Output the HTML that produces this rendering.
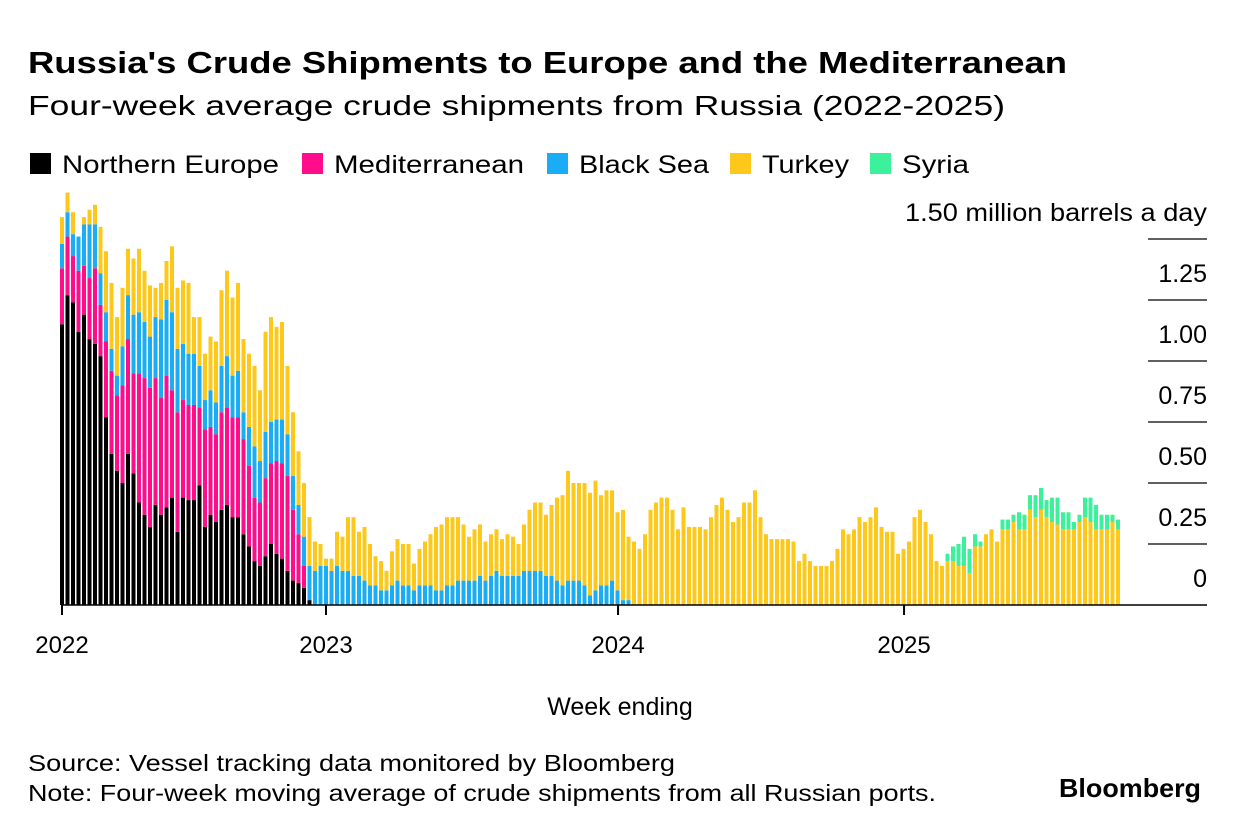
<!DOCTYPE html>
<html><head><meta charset="utf-8"><style>
html,body{margin:0;padding:0;background:#fff;}
svg{display:block;font-family:"Liberation Sans",Arial,sans-serif;}
</style></head><body>
<svg id="chart" width="1240" height="832" viewBox="0 0 1240 832" xmlns="http://www.w3.org/2000/svg">
<rect width="1240" height="832" fill="#fff"/>
<text x="28" y="73" font-size="31" font-weight="bold" fill="#000" textLength="1039" lengthAdjust="spacingAndGlyphs">Russia's Crude Shipments to Europe and the Mediterranean</text>
<text x="28" y="115" font-size="28" fill="#000" textLength="977" lengthAdjust="spacingAndGlyphs">Four-week average crude shipments from Russia (2022-2025)</text>
<g id="legend"></g>
<g id="grid"></g>
<g id="bars"></g>
<g id="xaxis"></g>
<text x="620" y="715" font-size="25" text-anchor="middle" fill="#000">Week ending</text>
<text x="28" y="771" font-size="23" fill="#000" textLength="647" lengthAdjust="spacingAndGlyphs">Source: Vessel tracking data monitored by Bloomberg</text>
<text x="28" y="801" font-size="23" fill="#000" textLength="908" lengthAdjust="spacingAndGlyphs">Note: Four-week moving average of crude shipments from all Russian ports.</text>
<text x="1201" y="797" font-size="26" font-weight="bold" text-anchor="end" fill="#000" textLength="142" lengthAdjust="spacingAndGlyphs">Bloomberg</text>
</svg>
<script>
const seriesNames = ["Northern Europe","Mediterranean","Black Sea","Turkey","Syria"];
const seriesColors = ["#000000","#ff0d8a","#1aadf5","#fec81b","#3df09b"];
const northern = [1.15,1.27,1.24,1.12,1.19,1.09,1.07,1.02,.77,.62,.55,.50,.62,.54,.42,.37,.32,.41,.37,.40,.44,.30,.44,.43,.43,.49,.32,.37,.34,.39,.41,.36,.36,.29,.24,.18,.16,.20,.25,.21,.19,.14,.10,.09,.07,.02];
const mediterranean = [.23,.24,.19,.25,.20,.25,.31,.21,.31,.34,.31,.40,.47,.41,.53,.56,.57,.52,.48,.54,.44,.49,.40,.39,.39,.32,.40,.36,.36,.40,.40,.41,.41,.39,.33,.26,.26,.32,.33,.38,.39,.39,.29,.20,.09,0];
const blackSea = [.10,.10,.09,.14,.17,.22,.18,.13,.12,.09,.08,.16,.18,.24,.25,.23,.21,.25,.32,.31,.32,.26,.23,.21,.21,.17,.12,.15,.13,.19,.21,.17,.19,.11,.16,.21,.17,.19,.17,.17,.18,.17,.14,.12,.12,.14,
.14,.16,.16,.14,.16,.14,.14,.12,.12,.10,.08,.08,.06,.06,.08,.10,.08,.08,.06,.08,.08,.08,.06,.06,.08,.08,.10,.10,.10,.10,.12,.10,.12,.14,.12,.12,.12,.12,.14,.14,.14,.14,.12,.12,.10,.08,.10,.10,.10,.08,.04,.06,.08,.08,.10,.06,.02,.02];
const turkey = [.11,.08,.09,0,.03,.06,.08,.19,.25,.27,.24,.24,.19,.23,.26,.21,.21,.12,.15,.16,.27,.25,.26,.29,.15,.20,.19,.22,.25,.31,.35,.32,.36,.30,.30,.33,.29,.41,.43,.38,.40,.28,.26,.22,.22,.20,
.12,.09,.03,.05,.14,.14,.22,.24,.18,.22,.17,.12,.12,.08,.14,.17,.17,.17,.11,.15,.18,.21,.26,.27,.28,.28,.26,.23,.18,.21,.21,.16,.17,.17,.15,.17,.16,.13,.19,.25,.28,.28,.25,.29,.34,.37,.45,.40,.40,.42,.42,.45,.37,.39,.37,.32,.37,.26,
.26,.23,.29,.39,.42,.44,.44,.39,.31,.40,.32,.32,.32,.31,.36,.41,.44,.39,.34,.36,.42,.42,.47,.36,.29,.27,.27,.27,.27,.26,.18,.21,.18,.16,.16,.16,.18,.23,.31,.29,.31,.36,.34,.36,.40,.32,.30,.30,.21,.23,.26,.36,.39,.34,.29,.18,.16,
.18,.18,.16,.16,.13,.24,.24,.29,.31,.26,.31,.31,.34,.31,.31,.39,.36,.39,.36,.34,.33,.31,.31,.31,.34,.36,.34,.31,.31,.31,.34,.31];
const syriaStart = 161;
const syria = [.03,.06,.09,.12,.10,.05,.02,0,0,0,.04,.04,.03,.07,.06,.06,.09,.09,.07,.10,.11,.07,.07,.03,.03,.08,.10,.10,.06,.06,.03,.04];
const yTickValues = [0,0.25,0.5,0.75,1.0,1.25,1.5];
const yTickLabels = ["0","0.25","0.50","0.75","1.00","1.25","1.50 million barrels a day"];
const xTickIndex = [0,48,101.1,153.1];
const xTickLabels = ["2022","2023","2024","2025"];

const NS="http://www.w3.org/2000/svg";
const X0=62, STEP=5.5, BW=4, Y0=605, PX=244;
function xScale(i){return X0+i*STEP;}
function yScale(v){return Y0-v*PX;}
function mk(tag,attrs,parent){const e=document.createElementNS(NS,tag);for(const k in attrs)e.setAttribute(k,attrs[k]);parent.appendChild(e);return e;}

const legend=document.getElementById('legend');
const legX=[30,302,547,730,870], legW=[217,190,130,87,67];
seriesNames.forEach((n,i)=>{
  const g=mk('g',{},legend);
  
  
  mk('rect',{x:legX[i],y:153,width:21,height:21,fill:seriesColors[i]},g);
  const t=mk('text',{x:legX[i]+32,y:173,'font-size':25,fill:'#000',textLength:legW[i],lengthAdjust:'spacingAndGlyphs'},g);
  t.textContent=n;
});

const grid=document.getElementById('grid');
yTickValues.forEach((v,i)=>{
  if(v>0){const l=mk('line',{x1:1148,x2:1207,y1:yScale(v),y2:yScale(v),stroke:'#000','stroke-width':1.3},grid);
  
  }
  const attrs={x:1207,y:yScale(v)-18,'font-size':25,'text-anchor':'end',fill:'#000'};
  if(i===yTickLabels.length-1){attrs.textLength=302;attrs.lengthAdjust='spacingAndGlyphs';}
  const t=mk('text',attrs,grid);
  
  
  t.textContent=yTickLabels[i];
});

const barsG=document.getElementById('bars');
const n=turkey.length;
for(let i=0;i<n;i++){
  const vals=[northern[i]||0,mediterranean[i]||0,blackSea[i]||0,turkey[i]||0,(i>=syriaStart?(syria[i-syriaStart]||0):0)];
  let cum=0;
  vals.forEach((v,s)=>{
    if(v<=0)return;
    const r=mk('rect',{x:xScale(i)-BW/2,y:yScale(cum+v),width:BW,height:v*PX,fill:seriesColors[s]},barsG);
    
    
    cum+=v;
  });
}

const xa=document.getElementById('xaxis');
const base=mk('line',{x1:X0-1,x2:1207,y1:Y0,y2:Y0,stroke:'#000','stroke-width':1.5},xa);


xTickIndex.forEach((ix,i)=>{
  const x=xScale(ix);
  const tk=mk('line',{x1:x,x2:x,y1:Y0,y2:Y0+10,stroke:'#000','stroke-width':2},xa);
  
  
  const t=mk('text',{x:x,y:653,'font-size':24,'text-anchor':'middle',fill:'#000'},xa);
  
  
  t.textContent=xTickLabels[i];
});
</script>
</body></html>
